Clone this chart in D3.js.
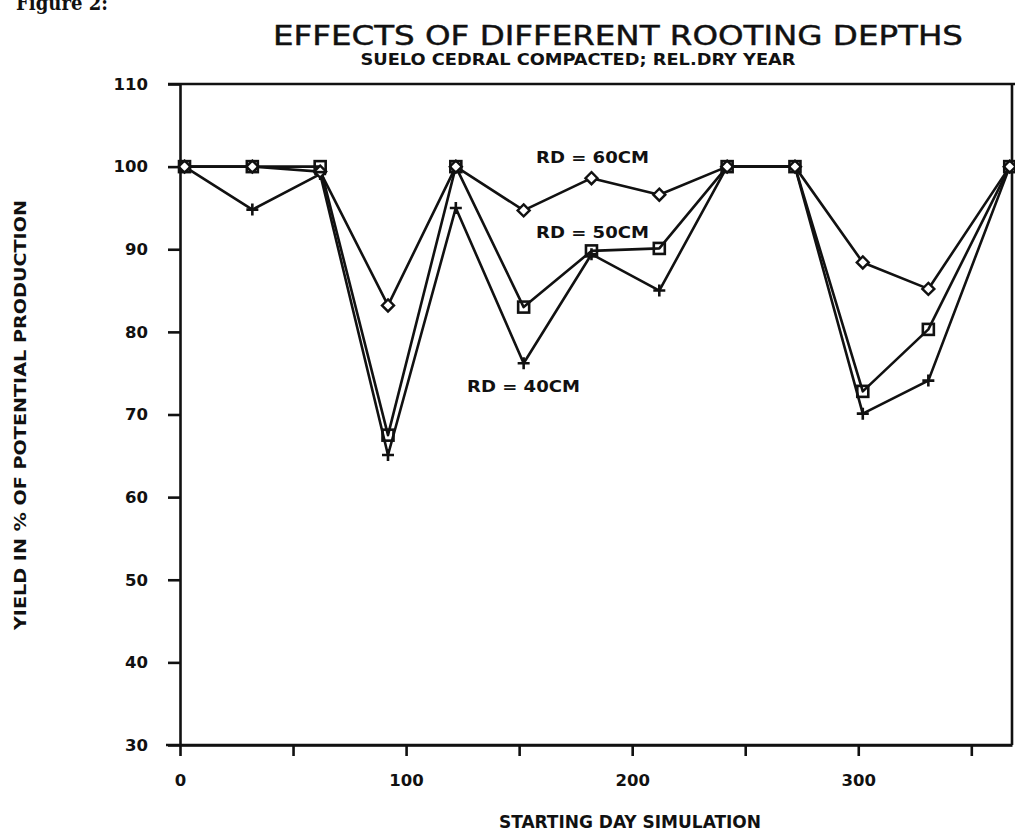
<!DOCTYPE html>
<html>
<head>
<meta charset="utf-8">
<script src="https://cdn.jsdelivr.net/npm/d3@7/dist/d3.min.js"></script>
<style>
  html, body { margin: 0; padding: 0; background: #fff; }
  svg { display: block; }
</style>
</head>
<body>
<svg id="chart" width="1015" height="835"></svg>
<script>
// Starting day of each simulation run
const startDays = [2, 32, 62, 92, 122, 152, 182, 212, 242, 272, 302, 331, 367];

// Yield (% of potential production) for each rooting depth
const rd60 = [100, 100, 99.4, 83.2, 100, 94.7, 98.6, 96.6, 100, 100, 88.4, 85.2, 100];
const rd50 = [100, 100, 100, 67.5, 100, 83.0, 89.8, 90.1, 100, 100, 72.8, 80.3, 100];
const rd40 = [100, 94.8, 99.1, 65.1, 95.0, 76.2, 89.4, 85.0, 100, 100, 70.1, 74.1, 100];

const yTicks = [30, 40, 50, 60, 70, 80, 90, 100, 110];
const xTicks = [0, 50, 100, 150, 200, 250, 300, 350];
const xTickLabels = [0, 100, 200, 300];

const seriesLabels = ["RD = 60CM", "RD = 50CM", "RD = 40CM"];

const svg = d3.select("#chart");
svg.append("rect").attr("width", 1015).attr("height", 835).attr("fill", "#fff");

const plotLeft = 180, plotRight = 1012, plotTop = 84, plotBottom = 745;
const x = d3.scaleLinear().domain([0, 368]).range([plotLeft, plotRight]);
const y = d3.scaleLinear().domain([30, 110]).range([plotBottom, plotTop]);

const ink = "#111";
const boldWide = "'DejaVu Sans', Verdana, sans-serif";
const narrow = "'Liberation Sans Narrow', 'DejaVu Sans Condensed', 'Arial Narrow', sans-serif";

// Heading text
svg.append("text")
  .attr("x", 16).attr("y", 10)
  .attr("font-family", "'DejaVu Serif', 'Liberation Serif', serif")
  .attr("font-weight", "bold").attr("font-size", 21).attr("fill", ink)
  .attr("textLength", 92).attr("lengthAdjust", "spacingAndGlyphs")
  .text("Figure 2:");

svg.append("text")
  .attr("x", 618).attr("y", 45)
  .attr("text-anchor", "middle")
  .attr("font-family", narrow).attr("font-size", 26).attr("fill", ink)
  .attr("stroke", ink).attr("stroke-width", 0.4)
  .attr("textLength", 690).attr("lengthAdjust", "spacingAndGlyphs")
  .text("EFFECTS OF DIFFERENT ROOTING DEPTHS");

svg.append("text")
  .attr("x", 578).attr("y", 65)
  .attr("text-anchor", "middle")
  .attr("font-family", narrow).attr("font-weight", "bold").attr("font-size", 15).attr("fill", ink)
  .attr("textLength", 435).attr("lengthAdjust", "spacingAndGlyphs")
  .text("SUELO CEDRAL COMPACTED; REL.DRY YEAR");

// Axes
const yAxis = svg.append("g")
  .attr("transform", `translate(${plotLeft},0)`)
  .call(d3.axisLeft(y).tickValues(yTicks).tickSize(12).tickPadding(20).tickSizeOuter(0));

const xAxis = svg.append("g")
  .attr("transform", `translate(0,${plotBottom})`)
  .call(d3.axisBottom(x).tickValues(xTicks).tickSize(11).tickPadding(18).tickSizeOuter(0)
    .tickFormat(d => xTickLabels.includes(d) ? d : ""));

[yAxis, xAxis].forEach(g => {
  g.selectAll("path, line").attr("stroke", ink).attr("stroke-width", 2.6);
  g.selectAll("text")
    .attr("font-family", boldWide).attr("font-weight", "bold")
    .attr("font-size", 16.5).attr("fill", ink);
});

// Frame: top, right and bottom borders
svg.append("line")
  .attr("x1", plotLeft - 12).attr("x2", 1015).attr("y1", y(110)).attr("y2", y(110))
  .attr("stroke", ink).attr("stroke-width", 2.6);
svg.append("line")
  .attr("x1", plotRight).attr("x2", plotRight).attr("y1", y(110)).attr("y2", y(30))
  .attr("stroke", ink).attr("stroke-width", 2.6);
svg.append("line")
  .attr("x1", plotLeft - 14).attr("x2", plotRight).attr("y1", y(30)).attr("y2", y(30))
  .attr("stroke", ink).attr("stroke-width", 2.6);

// Axis titles
svg.append("text")
  .attr("x", 630).attr("y", 828)
  .attr("text-anchor", "middle")
  .attr("font-family", narrow).attr("font-weight", "bold").attr("font-size", 18).attr("fill", ink)
  .attr("textLength", 262).attr("lengthAdjust", "spacingAndGlyphs")
  .text("STARTING DAY SIMULATION");

svg.append("text")
  .attr("transform", "translate(26,415) rotate(-90)")
  .attr("text-anchor", "middle")
  .attr("font-family", boldWide).attr("font-weight", "bold").attr("font-size", 15).attr("fill", ink)
  .attr("textLength", 430).attr("lengthAdjust", "spacingAndGlyphs")
  .text("YIELD IN % OF POTENTIAL PRODUCTION");

// Series lines
const line = d3.line().x((d, i) => x(startDays[i])).y(d => y(d));
[rd40, rd50, rd60].forEach(vals => {
  svg.append("path")
    .datum(vals)
    .attr("d", line)
    .attr("fill", "none")
    .attr("stroke", ink)
    .attr("stroke-width", 2.6)
    .attr("stroke-linejoin", "round");
});

// Markers: plus for 40 cm, diamond for 60 cm, square for 50 cm
const plus = svg.append("g");
rd40.forEach((v, i) => {
  const cx = x(startDays[i]), cy = y(v);
  plus.append("path")
    .attr("d", `M${cx - 6},${cy}H${cx + 6}M${cx},${cy - 6}V${cy + 6}`)
    .attr("stroke", ink).attr("stroke-width", 2.6);
});

const diamonds = svg.append("g");
rd60.forEach((v, i) => {
  const cx = x(startDays[i]), cy = y(v);
  diamonds.append("path")
    .attr("d", `M${cx},${cy - 6}L${cx + 6},${cy}L${cx},${cy + 6}L${cx - 6},${cy}Z`)
    .attr("fill", "#fff").attr("stroke", ink).attr("stroke-width", 2.4);
});

const squares = svg.append("g");
rd50.forEach((v, i) => {
  const cx = x(startDays[i]), cy = y(v);
  squares.append("rect")
    .attr("x", cx - 5.5).attr("y", cy - 5.5).attr("width", 11).attr("height", 11)
    .attr("fill", "none").attr("stroke", ink).attr("stroke-width", 2.6);
});

// Series labels (anchored on the yield scale)
const labelPos = [[536, 100.4], [536, 91.4], [467, 72.7]];
seriesLabels.forEach((t, i) => {
  svg.append("text")
    .attr("x", labelPos[i][0]).attr("y", y(labelPos[i][1]))
    .attr("font-family", boldWide).attr("font-weight", "bold").attr("font-size", 15).attr("fill", ink)
    .attr("textLength", 113).attr("lengthAdjust", "spacingAndGlyphs")
    .text(t);
});
</script>
</body>
</html>
